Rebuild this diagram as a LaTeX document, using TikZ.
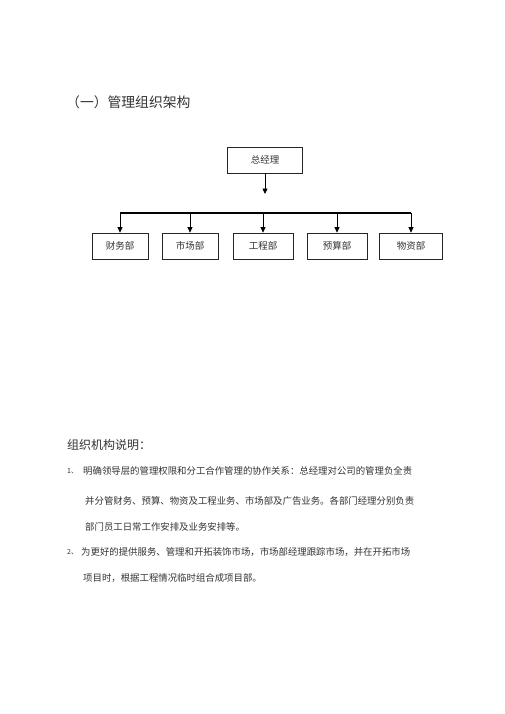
\documentclass[tikz,border=0pt]{standalone}
\usepackage{fontspec}
\setmainfont{Noto Sans CJK SC}
\usetikzlibrary{arrows.meta}
\tikzset{
  box/.style={draw=black!85, line width=0.7pt, minimum height=26pt, inner sep=0pt, font=\fontsize{9.5}{10}\selectfont, text=black!80},
  arr/.style={line width=0.8pt, -{Triangle[length=5.5pt,width=5pt]}},
  bus/.style={line width=1.1pt},
  para/.style={anchor=west, inner sep=0pt, font=\fontsize{9.4}{10}\selectfont, text=black!80},
  num/.style={anchor=west, inner sep=0pt, font=\fontsize{7}{8}\selectfont, text=black!80}
}
\begin{document}
\begin{tikzpicture}[x=1pt,y=-1pt]
\useasboundingbox[fill=white] (0,0) rectangle (505,714);
% title
\node[anchor=west, inner sep=0pt, font=\fontsize{13.8}{14}\selectfont, text=black!80] (title) at (66,102) {（一）管理组织架构};
% chart
\node[box, minimum width=75pt] (top) at (265,160) {总经理};
\coordinate (topend) at (265,194);
\node[box, minimum width=56pt] (d1) at (120,246) {财务部};
\node[box, minimum width=56pt] (d2) at (190,246) {市场部};
\node[box, minimum width=60pt] (d3) at (263,246) {工程部};
\node[box, minimum width=60pt] (d4) at (337,246) {预算部};
\node[box, minimum width=63pt] (d5) at (411,246) {物资部};
\coordinate (busL) at (120,213);
\coordinate (busR) at (411,213);
\draw[arr] (top.south) -- (topend);
\draw[bus] (busL) -- (busR);
\foreach \d in {d1,d2,d3,d4,d5}{
  \draw[arr] (\d.north |- busL) -- (\d.north);
}
% description
\node[anchor=west, inner sep=0pt, font=\fontsize{12}{13}\selectfont, text=black!80] (head) at (67,445) {组织机构说明：};
\node[num] (n1) at (67,471) {1、};
\node[para] (l1) at (83,471) {明确领导层的管理权限和分工合作管理的协作关系：总经理对公司的管理负全责};
\node[para] (l2) at (85,501) {并分管财务、预算、物资及工程业务、市场部及广告业务。各部门经理分别负责};
\node[para] (l3) at (85,527) {部门员工日常工作安排及业务安排等。};
\node[num] (n2) at (67,552) {2、};
\node[para] (l4) at (81,552) {为更好的提供服务、管理和开拓装饰市场，市场部经理跟踪市场，并在开拓市场};
\node[para] (l5) at (83,578) {项目时，根据工程情况临时组合成项目部。};
\end{tikzpicture}
\end{document}
